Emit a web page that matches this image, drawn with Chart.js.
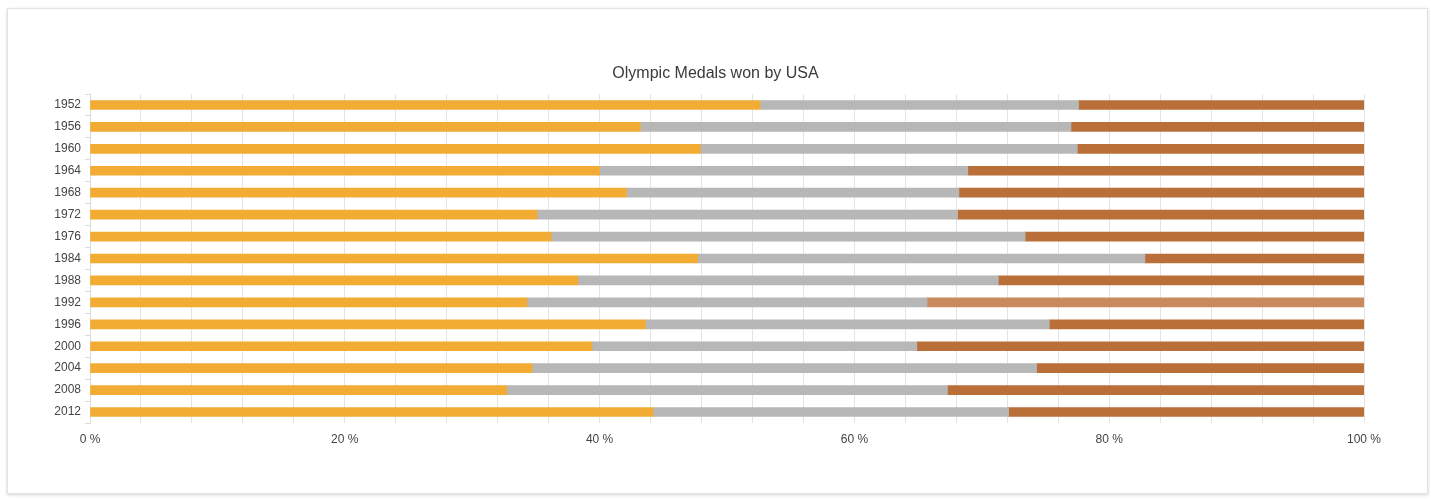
<!DOCTYPE html>
<html>
<head>
<meta charset="utf-8">
<script src="https://cdn.jsdelivr.net/npm/chart.js@4"></script>
<style>
  html, body { margin: 0; padding: 0; background: #fff; width: 1431px; height: 499px; overflow: hidden; }
  #card { position: absolute; left: 7px; top: 8px; width: 1419px; height: 484px; border: 1px solid #e2e2e2; box-shadow: 0 1px 3px rgba(0,0,0,0.18); background: #fff; }
  #wrap { position: absolute; left: 0; top: 0; width: 1431px; height: 499px; }
</style>
</head>
<body>
<div id="card"></div>
<div id="wrap"><canvas id="c" width="1431" height="499"></canvas></div>
<script>
const years = ['1952','1956','1960','1964','1968','1972','1976','1984','1988','1992','1996','2000','2004','2008','2012'];
// share of medals in percent
const goldPct   = [52.6, 43.2, 47.9, 40.0, 42.1, 35.1, 36.2, 47.7, 38.3, 34.3, 43.6, 39.4, 34.7, 32.7, 44.2];
const silverPct = [25.0, 33.8, 29.6, 28.9, 26.1, 33.0, 37.2, 35.1, 33.0, 31.4, 31.7, 25.5, 39.6, 34.6, 27.9];
const bronzePct = [22.4, 23.0, 22.5, 31.1, 31.8, 31.9, 26.6, 17.2, 28.7, 34.3, 24.7, 35.1, 25.7, 32.7, 27.9];
const xTicks = [0, 20, 40, 60, 80, 100];
const chartTitle = 'Olympic Medals won by USA';

const GOLD = '#F2AC33', SILVER = '#B7B7B7', BRONZE = '#BB6F38', BRONZE_HI = '#C98A5E';
const bronzeColors = years.map(y => y === '1992' ? BRONZE_HI : BRONZE);

const FONT = '"Liberation Sans", Arial, sans-serif';

// Title centred on the whole card (not just the padded layout box)
const centeredTitle = {
  id: 'centeredTitle',
  afterDraw(chart) {
    const ctx = chart.ctx;
    ctx.save();
    ctx.font = '16px ' + FONT;
    ctx.fillStyle = '#3a3a3a';
    ctx.textAlign = 'center';
    ctx.textBaseline = 'middle';
    ctx.fillText(chartTitle, chart.width / 2, 74);
    ctx.restore();
  }
};

new Chart(document.getElementById('c'), {
  type: 'bar',
  data: {
    labels: years,
    datasets: [
      { label: 'Gold', data: goldPct, backgroundColor: GOLD, barThickness: 9 },
      { label: 'Silver', data: silverPct, backgroundColor: SILVER, barThickness: 9 },
      { label: 'Bronze', data: bronzePct, backgroundColor: bronzeColors, barThickness: 9 }
    ]
  },
  plugins: [centeredTitle],
  options: {
    indexAxis: 'y',
    responsive: false,
    animation: false,
    layout: { padding: { top: 94, left: 40, right: 67, bottom: 46 } },
    plugins: {
      legend: { display: false },
      tooltip: { enabled: false },
      title: { display: false }
    },
    scales: {
      x: {
        stacked: true,
        min: 0, max: 100,
        afterBuildTicks(scale) {
          const t = [];
          for (let v = 0; v <= 100; v += 4) t.push({ value: v });
          scale.ticks = t;
        },
        afterFit(scale) { scale.height = 30; },
        grid: { color: '#e4e4e4', drawTicks: false, lineWidth: 1 },
        border: { display: false },
        ticks: {
          autoSkip: false,
          maxRotation: 0,
          padding: 9,
          color: '#444',
          font: { family: FONT, size: 12 },
          callback: (v) => xTicks.includes(v) ? v + ' %' : ''
        }
      },
      y: {
        stacked: true,
        offset: true,
        afterFit(scale) { scale.width = 50; },
        grid: { display: true, drawOnChartArea: false, drawTicks: true, tickLength: 5, color: '#dcdcdc', offset: true },
        border: { display: true, color: '#dcdcdc' },
        ticks: { padding: 4, color: '#444', font: { family: FONT, size: 12 } }
      }
    }
  }
});
</script>
</body>
</html>
